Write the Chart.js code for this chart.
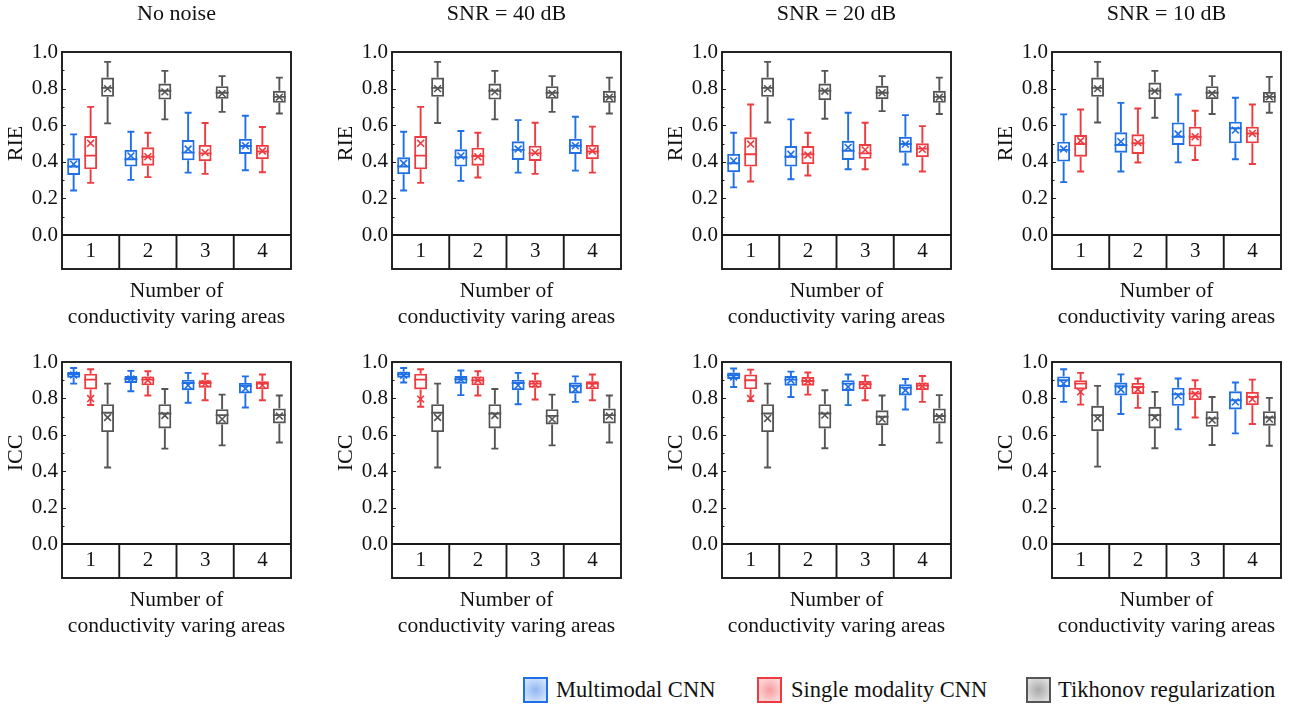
<!DOCTYPE html>
<html><head><meta charset="utf-8">
<script src="https://cdn.jsdelivr.net/npm/chart.js@4.4.0/dist/chart.umd.min.js"></script>
<style>
html,body{margin:0;padding:0;background:#fff;width:1300px;height:706px;overflow:hidden;position:relative;}
canvas{position:absolute;}
.lg-box{position:absolute;top:677px;width:21px;height:22px;border:2.5px solid;}
.lg-txt{position:absolute;top:676px;font-family:'Liberation Serif',serif;font-size:22.5px;line-height:28px;color:#111;white-space:nowrap;}
</style></head><body>
<script>
// ---- data: each entry [min, q1, median, q3, max, mean] per category ----
const categories = ['1', '2', '3', '4'];
const seriesNames = ['Multimodal CNN', 'Single modality CNN', 'Tikhonov regularization'];
const panelTitles = ['No noise', 'SNR = 40 dB', 'SNR = 20 dB', 'SNR = 10 dB'];
const yLabels = ['RIE', 'ICC'];
const xTitle = ['Number of', 'conductivity varing areas'];

const rieNoNoiseMulti  = [[0.243,0.328,0.374,0.419,0.550,0.387],[0.301,0.374,0.414,0.465,0.564,0.432],[0.341,0.408,0.450,0.519,0.668,0.470],[0.354,0.443,0.486,0.526,0.652,0.488]];
const rieNoNoiseSingle = [[0.285,0.359,0.434,0.541,0.700,0.501],[0.316,0.379,0.428,0.479,0.559,0.428],[0.334,0.403,0.446,0.492,0.612,0.450],[0.343,0.414,0.456,0.492,0.590,0.459]];
const rieNoNoiseTik    = [[0.610,0.755,0.804,0.860,0.946,0.800],[0.632,0.740,0.788,0.828,0.897,0.782],[0.673,0.744,0.777,0.813,0.868,0.773],[0.664,0.722,0.755,0.788,0.860,0.753]];
const iccNoNoiseMulti  = [[0.881,0.914,0.932,0.945,0.967,0.929],[0.839,0.885,0.907,0.923,0.951,0.907],[0.776,0.845,0.885,0.903,0.940,0.872],[0.750,0.827,0.869,0.885,0.921,0.854]];
const iccNoNoiseSingle = [[0.764,0.849,0.903,0.936,0.960,0.799],[0.816,0.872,0.903,0.921,0.949,0.900],[0.790,0.859,0.885,0.900,0.936,0.881],[0.790,0.850,0.881,0.894,0.931,0.872]];
const iccNoNoiseTik    = [[0.420,0.615,0.721,0.768,0.881,0.695],[0.524,0.635,0.717,0.768,0.852,0.706],[0.542,0.657,0.708,0.741,0.821,0.686],[0.558,0.662,0.708,0.745,0.816,0.703]];

const rie40Multi  = [[0.243,0.332,0.374,0.425,0.564,0.392],[0.296,0.374,0.425,0.468,0.568,0.432],[0.341,0.410,0.465,0.512,0.628,0.470],[0.352,0.443,0.488,0.526,0.646,0.488]];
const rie40Single = [[0.285,0.359,0.434,0.541,0.700,0.501],[0.314,0.379,0.432,0.477,0.559,0.428],[0.334,0.405,0.446,0.488,0.613,0.450],[0.341,0.414,0.456,0.492,0.592,0.459]];
const rie40Tik    = [[0.612,0.755,0.804,0.860,0.946,0.800],[0.632,0.740,0.788,0.828,0.897,0.782],[0.673,0.744,0.777,0.813,0.868,0.773],[0.664,0.722,0.755,0.788,0.860,0.753]];
const icc40Multi  = [[0.887,0.914,0.932,0.947,0.967,0.927],[0.818,0.881,0.905,0.923,0.953,0.903],[0.768,0.845,0.885,0.903,0.940,0.872],[0.781,0.827,0.869,0.887,0.921,0.849]];
const icc40Single = [[0.754,0.849,0.903,0.936,0.960,0.796],[0.816,0.872,0.900,0.921,0.949,0.900],[0.794,0.858,0.881,0.900,0.936,0.878],[0.790,0.850,0.881,0.894,0.931,0.872]];
const icc40Tik    = [[0.420,0.615,0.721,0.768,0.881,0.695],[0.524,0.635,0.717,0.768,0.852,0.706],[0.542,0.657,0.704,0.741,0.821,0.686],[0.558,0.662,0.708,0.745,0.816,0.703]];

const rie20Multi  = [[0.260,0.343,0.392,0.443,0.559,0.405],[0.305,0.374,0.428,0.486,0.632,0.441],[0.359,0.410,0.460,0.515,0.668,0.479],[0.385,0.450,0.497,0.537,0.655,0.497]];
const rie20Single = [[0.292,0.374,0.441,0.534,0.713,0.497],[0.325,0.387,0.441,0.486,0.559,0.437],[0.359,0.416,0.446,0.497,0.613,0.465],[0.347,0.425,0.472,0.501,0.595,0.468]];
const rie20Tik    = [[0.615,0.755,0.804,0.860,0.946,0.800],[0.635,0.737,0.788,0.828,0.897,0.786],[0.677,0.742,0.777,0.815,0.868,0.777],[0.661,0.722,0.755,0.788,0.860,0.753]];
const icc20Multi  = [[0.863,0.907,0.927,0.942,0.964,0.918],[0.808,0.870,0.903,0.923,0.947,0.900],[0.763,0.841,0.881,0.900,0.931,0.863],[0.739,0.816,0.859,0.878,0.907,0.845]];
const icc20Single = [[0.785,0.850,0.900,0.932,0.958,0.799],[0.821,0.870,0.896,0.918,0.942,0.894],[0.790,0.850,0.878,0.896,0.925,0.872],[0.781,0.845,0.870,0.887,0.923,0.867]];
const icc20Tik    = [[0.420,0.615,0.717,0.768,0.881,0.690],[0.526,0.635,0.717,0.768,0.845,0.708],[0.544,0.653,0.699,0.735,0.816,0.686],[0.557,0.662,0.703,0.745,0.818,0.699]];

const rie10Multi  = [[0.289,0.401,0.465,0.510,0.659,0.470],[0.347,0.450,0.492,0.561,0.722,0.510],[0.397,0.492,0.537,0.615,0.768,0.552],[0.414,0.501,0.583,0.619,0.750,0.573]];
const rie10Single = [[0.347,0.428,0.497,0.546,0.686,0.515],[0.396,0.443,0.501,0.550,0.691,0.505],[0.410,0.483,0.537,0.592,0.679,0.537],[0.388,0.501,0.555,0.592,0.713,0.555]];
const rie10Tik    = [[0.615,0.755,0.804,0.860,0.946,0.800],[0.641,0.742,0.788,0.833,0.897,0.786],[0.661,0.742,0.777,0.813,0.868,0.773],[0.668,0.722,0.755,0.782,0.864,0.755]];
const icc10Multi  = [[0.781,0.863,0.900,0.921,0.960,0.881],[0.714,0.816,0.867,0.887,0.932,0.849],[0.630,0.759,0.823,0.859,0.909,0.814],[0.608,0.739,0.790,0.839,0.887,0.781]];
const icc10Single = [[0.766,0.849,0.881,0.900,0.940,0.836],[0.748,0.823,0.863,0.885,0.909,0.849],[0.695,0.790,0.827,0.858,0.900,0.823],[0.659,0.763,0.808,0.836,0.903,0.796]];
const icc10Tik    = [[0.425,0.620,0.708,0.759,0.869,0.690],[0.526,0.635,0.708,0.754,0.836,0.695],[0.544,0.644,0.690,0.730,0.808,0.681],[0.540,0.650,0.695,0.730,0.803,0.686]];

const seriesColors = ['#1f6fe6', '#ee3b40', '#555555'];

const panelsRIE = [
  [rieNoNoiseMulti, rieNoNoiseSingle, rieNoNoiseTik],
  [rie40Multi, rie40Single, rie40Tik],
  [rie20Multi, rie20Single, rie20Tik],
  [rie10Multi, rie10Single, rie10Tik]
];
const panelsICC = [
  [iccNoNoiseMulti, iccNoNoiseSingle, iccNoNoiseTik],
  [icc40Multi, icc40Single, icc40Tik],
  [icc20Multi, icc20Single, icc20Tik],
  [icc10Multi, icc10Single, icc10Tik]
];

const FONT = "'Liberation Serif', 'Times New Roman', serif";
const FRAME = '#1a1a1a';
const CATBOX = 34;
const LW = 1.9;

const boxPlugin = {
  id: 'boxWhisker',
  afterDatasetsDraw(chart) {
    const ctx = chart.ctx, ys = chart.scales.y;
    chart.data.datasets.forEach((ds, di) => {
      const meta = chart.getDatasetMeta(di);
      meta.data.forEach((bar, i) => {
        const s = ds.stats[i];
        const x = bar.x, half = bar.width / 2, cap = bar.width * 0.27;
        const p = v => ys.getPixelForValue(v);
        const yMin = p(s[0]), yQ1 = p(s[1]), yMed = p(s[2]), yQ3 = p(s[3]), yMax = p(s[4]), yMean = p(s[5]);
        ctx.save();
        ctx.strokeStyle = ds.borderColor;
        ctx.lineWidth = LW;
        ctx.beginPath();
        ctx.moveTo(x, yQ3); ctx.lineTo(x, yMax);
        ctx.moveTo(x - cap, yMax); ctx.lineTo(x + cap, yMax);
        ctx.moveTo(x, yQ1); ctx.lineTo(x, yMin);
        ctx.moveTo(x - cap, yMin); ctx.lineTo(x + cap, yMin);
        ctx.moveTo(x - half, yMed); ctx.lineTo(x + half, yMed);
        ctx.stroke();
        ctx.lineWidth = 1.6;
        const m = 3.4;
        ctx.beginPath();
        ctx.moveTo(x - m, yMean - m); ctx.lineTo(x + m, yMean + m);
        ctx.moveTo(x - m, yMean + m); ctx.lineTo(x + m, yMean - m);
        ctx.stroke();
        ctx.restore();
      });
    });
  },
  afterDraw(chart) {
    const ctx = chart.ctx, a = chart.chartArea, xs = chart.scales.x, ys = chart.scales.y;
    ctx.save();
    ctx.strokeStyle = FRAME;
    ctx.lineWidth = 1.9;
    ctx.strokeRect(a.left, a.top, a.right - a.left, a.bottom + CATBOX - a.top);
    ctx.beginPath();
    ctx.moveTo(a.left, a.bottom); ctx.lineTo(a.right, a.bottom);
    for (let i = 0; i < categories.length - 1; i++) {
      const xb = (xs.getPixelForValue(i) + xs.getPixelForValue(i + 1)) / 2;
      ctx.moveTo(xb, a.bottom); ctx.lineTo(xb, a.bottom + CATBOX);
    }
    ctx.stroke();
    ctx.lineWidth = 1;
    ctx.beginPath();
    for (let k = 1; k < 10; k++) {
      const y = Math.round(ys.getPixelForValue(k / 10)) + 0.5;
      const len = (k % 2 === 0) ? 4 : 2.5;
      ctx.moveTo(a.left, y); ctx.lineTo(a.left + len, y);
    }
    ctx.stroke();
    ctx.restore();
  }
};

function makePanel(col, row) {
  const canvas = document.createElement('canvas');
  canvas.width = 310; canvas.height = 330;
  canvas.style.left = (col * 330) + 'px';
  canvas.style.top = (row * 330) + 'px';
  canvas.style.width = '310px'; canvas.style.height = '330px';
  document.body.appendChild(canvas);
  const sets = row === 0 ? panelsRIE[col] : panelsICC[col];
  const datasets = sets.map((arr, si) => ({
    label: seriesNames[si],
    data: arr.map(s => [s[1], s[3]]),
    stats: arr,
    borderColor: seriesColors[si],
    backgroundColor: 'rgba(255,255,255,0)',
    borderWidth: LW,
    borderSkipped: false,
    categoryPercentage: 0.89,
    barPercentage: 0.76
  }));
  new Chart(canvas, {
    type: 'bar',
    data: { labels: categories, datasets },
    plugins: [boxPlugin],
    options: {
      responsive: false,
      animation: false,
      devicePixelRatio: 1,
      layout: { padding: { top: row === 0 ? 0 : 32, right: 19, bottom: row === 0 ? 0 : 21, left: 0 } },
      plugins: {
        legend: { display: false },
        tooltip: { enabled: false },
        title: {
          display: row === 0,
          text: panelTitles[col],
          fullSize: false,
          color: '#111',
          font: { family: FONT, size: 22, weight: 'normal', lineHeight: 1.2 },
          padding: { top: 1, bottom: 24.6 }
        }
      },
      scales: {
        x: {
          type: 'category',
          grid: { display: false, drawTicks: false },
          border: { display: false },
          ticks: { color: '#111', padding: 4, font: { family: FONT, size: 21 } },
          title: { display: true, text: xTitle, color: '#111', padding: { top: 0, bottom: 0 }, font: { family: FONT, size: 21.5, lineHeight: 1.21 } },
          afterFit(s) { s.height = 95; }
        },
        y: {
          min: 0, max: 1,
          grid: { display: false, drawTicks: false },
          border: { display: false },
          ticks: { stepSize: 0.2, color: '#111', padding: 4, font: { family: FONT, size: 21 }, callback: v => Number(v).toFixed(1) },
          title: { display: true, text: yLabels[row], color: '#111', padding: { top: 3, bottom: 0 }, font: { family: FONT, size: 22, lineHeight: 1.2 } },
          afterFit(s) { s.width = 62; }
        }
      }
    }
  });
}

for (let r = 0; r < 2; r++) for (let c = 0; c < 4; c++) makePanel(c, r);

// legend
const legendX = [[523, 556], [757, 791], [1026, 1058]];
const legendFill = ['rgba(31,111,230,', 'rgba(238,59,64,', 'rgba(85,85,85,'];
seriesNames.forEach((name, i) => {
  const b = document.createElement('div');
  b.className = 'lg-box';
  b.style.left = legendX[i][0] + 'px';
  b.style.borderColor = seriesColors[i];
  b.style.background = 'radial-gradient(circle, ' + legendFill[i] + '0.5) 0%, ' + legendFill[i] + '0.15) 100%)';
  document.body.appendChild(b);
  const t = document.createElement('div');
  t.className = 'lg-txt';
  t.style.left = legendX[i][1] + 'px';
  t.textContent = name;
  document.body.appendChild(t);
});
</script>
</body></html>
